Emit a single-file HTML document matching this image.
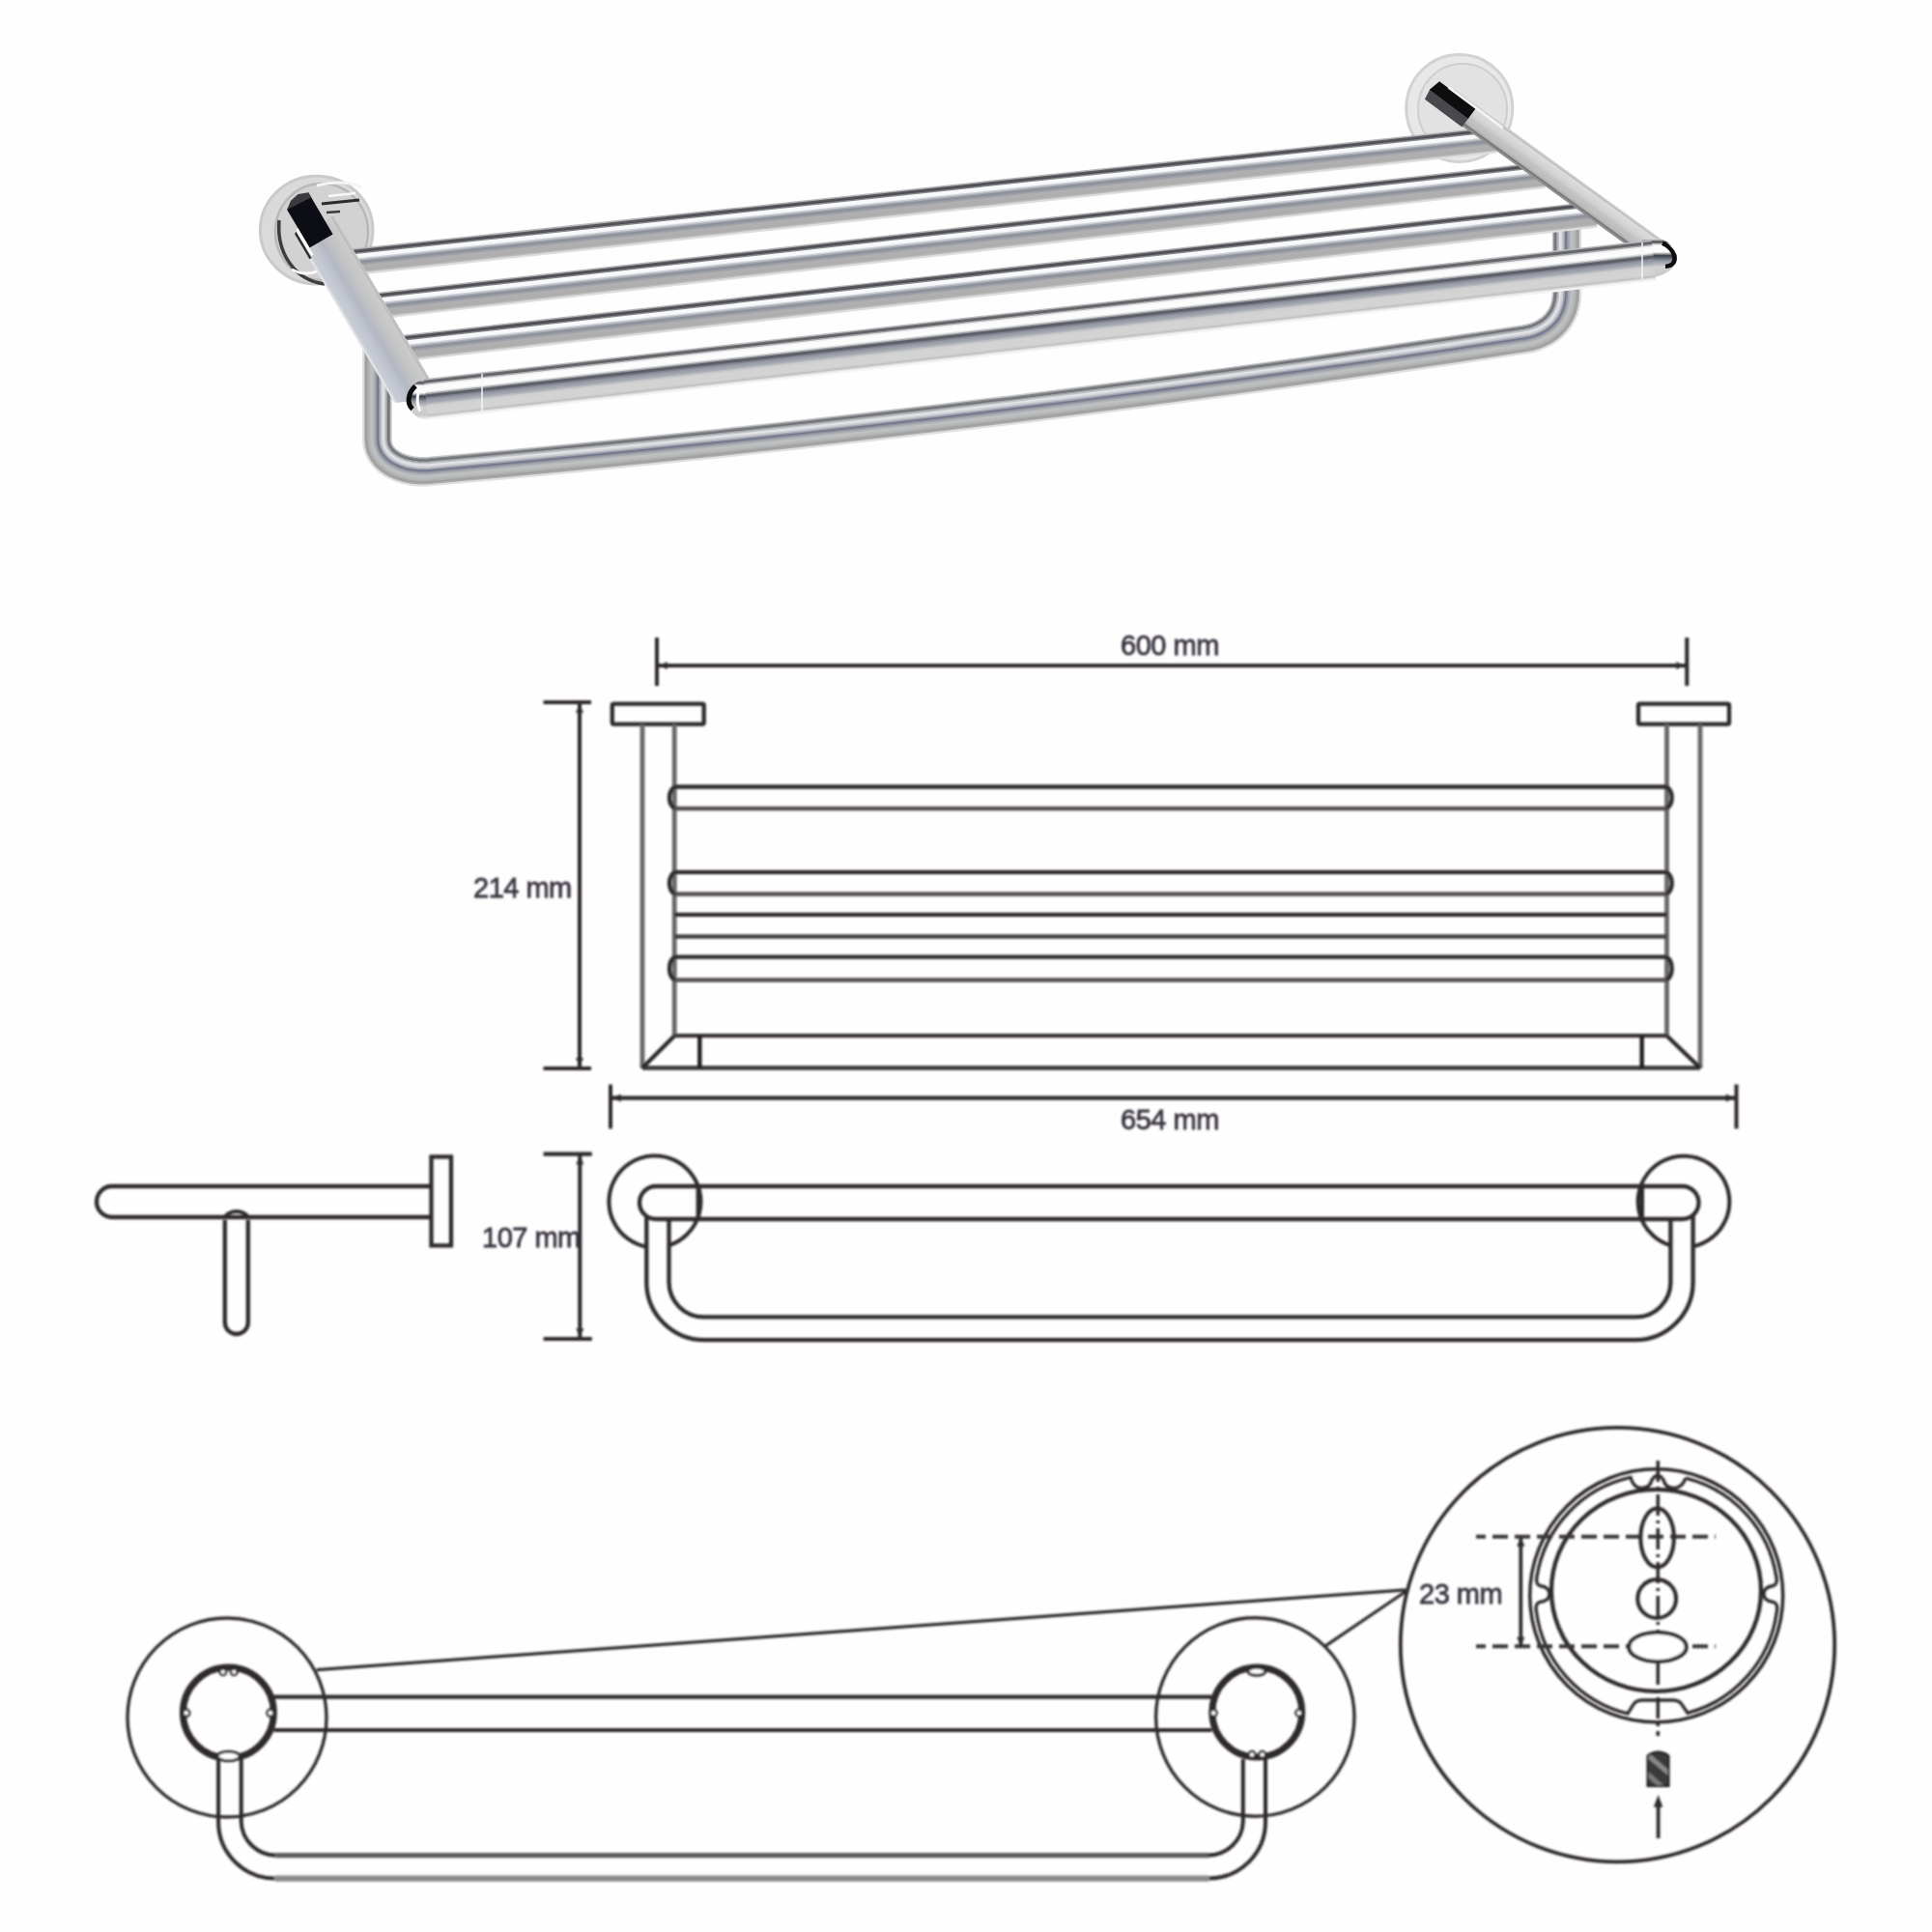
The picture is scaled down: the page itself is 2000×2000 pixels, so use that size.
<!DOCTYPE html>
<html><head><meta charset="utf-8"><style>
html,body{margin:0;padding:0;background:#fff;}
svg{display:block;}
text{font-family:"Liberation Sans",sans-serif;}
</style></head><body>
<svg width="2000" height="2000" viewBox="0 0 2000 2000">
<defs><filter id="pblur" filterUnits="userSpaceOnUse" x="0" y="0" width="2000" height="700"><feGaussianBlur stdDeviation="0.7"/></filter><filter id="dblur" filterUnits="userSpaceOnUse" x="0" y="0" width="2000" height="2000"><feGaussianBlur stdDeviation="1.2"/></filter></defs>
<rect width="2000" height="2000" fill="#fefefe"/>
<g filter="url(#pblur)">
<ellipse cx="327.7" cy="238.1" rx="58.3" ry="55.8" fill="#dadada" stroke="#cacaca" stroke-width="3"/>
<ellipse cx="333" cy="240" rx="48" ry="50" fill="#d2d2d2" stroke="#b8b8b8" stroke-width="2.5"/>
<path d="M289,228 C286,262 305,290 336,294" stroke="#3c3c3c" stroke-width="3.5" fill="none"/>
<path d="M302,279 C312,284 322,284 330,280" stroke="#fafafa" stroke-width="3" fill="none"/>
<path d="M328,192 C348,187 365,189 374,194" stroke="#f4f4f4" stroke-width="3" fill="none"/>
<path d="M333,211 L372,207" stroke="#2a2a2a" stroke-width="3" fill="none"/>
<path d="M338,220 L352,219" stroke="#3a3a3a" stroke-width="2.5" fill="none"/>
<path d="M340,203 L368,200" stroke="#f8f8f8" stroke-width="2.5" fill="none"/>
<ellipse cx="1510.8" cy="112" rx="55" ry="55.5" fill="#e8e8e8" stroke="#d2d2d2" stroke-width="3"/>
<ellipse cx="1514" cy="113" rx="46" ry="47" fill="#e2e2e2" stroke="#cecece" stroke-width="2"/>
<path d="M404.6,350.0L404.5,454.9L404.8,457.6L405.4,459.7L406.4,461.8L407.9,463.8L409.9,465.8L412.6,467.7L415.8,469.5L419.6,471.1L423.8,472.4L428.4,473.3L433.3,473.9L438.5,474.1L443.8,473.8L519.2,467.0L594.7,459.8L670.2,452.3L745.6,444.5L821.1,436.3L896.6,427.9L972.1,419.1L1047.5,410.0L1123.0,400.6L1198.5,390.8L1274.0,380.8L1349.4,370.4L1424.9,359.7L1500.4,348.6L1575.8,337.3L1580.5,336.4L1584.8,335.1L1588.7,333.6L1592.2,331.7L1595.3,329.6L1598.1,327.3L1600.5,324.7L1602.6,321.9L1604.4,318.8L1605.8,315.4L1606.8,311.7L1607.5,307.6L1607.8,302.9L1607.8,228.0" stroke="#c8c9cb" stroke-width="2.20" fill="none" stroke-linecap="butt" stroke-linejoin="round" />
<path d="M403.1,350.0L403.0,454.9L403.3,457.8L404.0,460.3L405.1,462.6L406.8,464.8L409.0,466.9L411.8,469.0L415.1,470.9L419.0,472.5L423.4,473.8L428.2,474.8L433.2,475.4L438.5,475.6L443.9,475.3L519.4,468.5L594.8,461.3L670.3,453.8L745.8,446.0L821.3,437.8L896.8,429.4L972.2,420.6L1047.7,411.5L1123.2,402.1L1198.7,392.3L1274.2,382.2L1349.6,371.8L1425.1,361.1L1500.6,350.1L1576.1,338.8L1580.8,337.8L1585.3,336.5L1589.3,334.9L1593.0,333.0L1596.2,330.8L1599.2,328.4L1601.7,325.7L1603.9,322.7L1605.7,319.5L1607.2,315.9L1608.3,312.0L1609.0,307.7L1609.3,303.0L1609.2,228.0" stroke="#86888c" stroke-width="2.20" fill="none" stroke-linecap="butt" stroke-linejoin="round" />
<path d="M401.6,350.0L401.5,455.0L401.8,458.1L402.6,460.8L403.9,463.3L405.6,465.7L408.0,468.1L411.0,470.2L414.5,472.2L418.5,473.9L423.0,475.3L427.9,476.3L433.1,476.9L438.5,477.1L444.0,476.8L519.5,470.0L595.0,462.8L670.5,455.3L746.0,447.5L821.4,439.3L896.9,430.9L972.4,422.1L1047.9,413.0L1123.4,403.5L1198.9,393.8L1274.4,383.7L1349.8,373.3L1425.3,362.6L1500.8,351.6L1576.3,340.2L1581.2,339.3L1585.7,337.9L1589.9,336.3L1593.7,334.3L1597.1,332.0L1600.2,329.5L1602.8,326.7L1605.1,323.6L1607.1,320.1L1608.6,316.4L1609.8,312.3L1610.5,307.9L1610.8,303.0L1610.8,228.0" stroke="#6e7074" stroke-width="2.20" fill="none" stroke-linecap="butt" stroke-linejoin="round" />
<path d="M400.1,350.0L400.0,455.0L400.4,458.4L401.2,461.4L402.6,464.1L404.5,466.7L407.0,469.2L410.1,471.5L413.8,473.6L418.0,475.3L422.7,476.7L427.7,477.8L433.0,478.4L438.5,478.6L444.2,478.3L519.6,471.4L595.1,464.3L670.6,456.8L746.1,449.0L821.6,440.8L897.1,432.3L972.6,423.6L1048.1,414.5L1123.6,405.0L1199.1,395.3L1274.6,385.2L1350.1,374.8L1425.5,364.1L1501.0,353.1L1576.5,341.7L1581.6,340.7L1586.2,339.4L1590.5,337.6L1594.5,335.6L1598.0,333.2L1601.2,330.6L1604.0,327.6L1606.4,324.4L1608.4,320.8L1610.0,316.9L1611.2,312.7L1612.0,308.0L1612.3,303.0L1612.2,228.0" stroke="#a0a2a6" stroke-width="2.20" fill="none" stroke-linecap="butt" stroke-linejoin="round" />
<path d="M398.6,350.0L398.5,455.0L398.9,458.6L399.8,461.9L401.3,464.9L403.4,467.7L406.1,470.3L409.3,472.8L413.2,474.9L417.5,476.7L422.3,478.2L427.4,479.3L432.9,479.9L438.5,480.1L444.3,479.8L519.8,472.9L595.3,465.8L670.8,458.3L746.3,450.4L821.8,442.3L897.3,433.8L972.8,425.1L1048.3,415.9L1123.8,406.5L1199.3,396.8L1274.8,386.7L1350.3,376.3L1425.8,365.6L1501.3,354.6L1576.7,343.2L1581.9,342.2L1586.7,340.8L1591.2,339.0L1595.2,336.9L1598.9,334.4L1602.2,331.7L1605.1,328.6L1607.7,325.2L1609.8,321.5L1611.5,317.4L1612.7,313.0L1613.5,308.2L1613.8,303.0L1613.8,228.0" stroke="#c3c5c9" stroke-width="2.20" fill="none" stroke-linecap="butt" stroke-linejoin="round" />
<path d="M397.1,350.0L397.0,455.0L397.4,458.9L398.4,462.4L400.0,465.7L402.2,468.7L405.1,471.5L408.5,474.0L412.5,476.3L417.0,478.1L421.9,479.6L427.2,480.7L432.8,481.4L438.5,481.6L444.4,481.3L519.9,474.4L595.4,467.3L670.9,459.8L746.4,451.9L821.9,443.8L897.4,435.3L972.9,426.5L1048.4,417.4L1123.9,408.0L1199.5,398.3L1275.0,388.2L1350.5,377.8L1426.0,367.1L1501.5,356.0L1577.0,344.7L1582.3,343.6L1587.2,342.2L1591.8,340.4L1596.0,338.2L1599.8,335.6L1603.3,332.8L1606.3,329.5L1608.9,326.0L1611.1,322.1L1612.9,317.9L1614.2,313.3L1615.0,308.4L1615.3,303.0L1615.2,228.0" stroke="#e3e5e9" stroke-width="2.20" fill="none" stroke-linecap="butt" stroke-linejoin="round" />
<path d="M395.6,350.0L395.5,455.0L395.9,459.2L397.0,463.0L398.7,466.5L401.1,469.7L404.1,472.6L407.7,475.3L411.9,477.6L416.5,479.5L421.6,481.1L427.0,482.2L432.7,482.9L438.5,483.1L444.5,482.8L520.0,475.9L595.6,468.7L671.1,461.2L746.6,453.4L822.1,445.3L897.6,436.8L973.1,428.0L1048.6,418.9L1124.1,409.5L1199.7,399.7L1275.2,389.7L1350.7,379.3L1426.2,368.6L1501.7,357.5L1577.2,346.2L1582.6,345.1L1587.7,343.6L1592.4,341.7L1596.8,339.5L1600.7,336.8L1604.3,333.8L1607.5,330.5L1610.2,326.8L1612.5,322.8L1614.3,318.4L1615.6,313.6L1616.5,308.5L1616.8,303.0L1616.8,228.0" stroke="#d7d9de" stroke-width="2.20" fill="none" stroke-linecap="butt" stroke-linejoin="round" />
<path d="M394.1,350.0L394.0,455.0L394.5,459.4L395.6,463.5L397.5,467.2L400.0,470.7L403.1,473.8L406.9,476.5L411.2,478.9L416.0,481.0L421.2,482.5L426.7,483.7L432.5,484.4L438.5,484.6L444.7,484.3L520.2,477.4L595.7,470.2L671.2,462.7L746.7,454.9L822.3,446.8L897.8,438.3L973.3,429.5L1048.8,420.4L1124.3,411.0L1199.8,401.2L1275.4,391.2L1350.9,380.8L1426.4,370.0L1501.9,359.0L1577.4,347.7L1583.0,346.6L1588.2,345.0L1593.0,343.1L1597.5,340.8L1601.6,338.0L1605.3,334.9L1608.6,331.5L1611.4,327.6L1613.8,323.4L1615.7,318.9L1617.1,314.0L1618.0,308.7L1618.3,303.0L1618.2,228.0" stroke="#c3c5cb" stroke-width="2.20" fill="none" stroke-linecap="butt" stroke-linejoin="round" />
<path d="M392.6,350.0L392.5,455.0L393.0,459.7L394.2,464.0L396.2,468.0L398.8,471.6L402.2,474.9L406.1,477.8L410.5,480.3L415.5,482.4L420.8,484.0L426.5,485.2L432.4,485.9L438.6,486.1L444.8,485.8L520.3,478.9L595.8,471.7L671.4,464.2L746.9,456.4L822.4,448.3L897.9,439.8L973.5,431.0L1049.0,421.9L1124.5,412.5L1200.0,402.7L1275.6,392.6L1351.1,382.2L1426.6,371.5L1502.1,360.5L1577.7,349.1L1583.3,348.0L1588.7,346.5L1593.7,344.5L1598.3,342.1L1602.5,339.2L1606.4,336.0L1609.8,332.4L1612.7,328.4L1615.2,324.1L1617.1,319.4L1618.6,314.3L1619.4,308.8L1619.8,303.0L1619.8,228.0" stroke="#9b9eab" stroke-width="2.20" fill="none" stroke-linecap="butt" stroke-linejoin="round" />
<path d="M391.1,350.0L391.0,455.0L391.5,460.0L392.8,464.6L394.9,468.8L397.7,472.6L401.2,476.1L405.3,479.1L409.9,481.6L415.0,483.8L420.4,485.5L426.3,486.7L432.3,487.4L438.6,487.6L444.9,487.3L520.5,480.4L596.0,473.2L671.5,465.7L747.1,457.9L822.6,449.8L898.1,441.3L973.6,432.5L1049.2,423.4L1124.7,414.0L1200.2,404.2L1275.8,394.1L1351.3,383.7L1426.8,373.0L1502.4,362.0L1577.9,350.6L1583.7,349.5L1589.2,347.9L1594.3,345.8L1599.1,343.3L1603.4,340.4L1607.4,337.1L1610.9,333.4L1614.0,329.3L1616.5,324.8L1618.5,319.9L1620.0,314.6L1620.9,309.0L1621.3,303.0L1621.2,228.0" stroke="#71758b" stroke-width="2.20" fill="none" stroke-linecap="butt" stroke-linejoin="round" />
<path d="M389.6,350.0L389.6,455.0L390.0,460.3L391.4,465.1L393.6,469.6L396.6,473.6L400.2,477.2L404.5,480.3L409.2,483.0L414.5,485.2L420.1,486.9L426.0,488.1L432.2,488.9L438.6,489.1L445.1,488.8L520.6,481.9L596.1,474.7L671.7,467.2L747.2,459.4L822.7,451.2L898.3,442.8L973.8,434.0L1049.4,424.9L1124.9,415.4L1200.4,405.7L1276.0,395.6L1351.5,385.2L1427.0,374.5L1502.6,363.5L1578.1,352.1L1584.0,350.9L1589.6,349.3L1594.9,347.2L1599.8,344.6L1604.3,341.6L1608.4,338.2L1612.1,334.4L1615.2,330.1L1617.9,325.4L1620.0,320.4L1621.5,314.9L1622.4,309.1L1622.7,303.0L1622.8,228.0" stroke="#8b8f9c" stroke-width="2.20" fill="none" stroke-linecap="butt" stroke-linejoin="round" />
<path d="M388.1,350.0L388.1,455.0L388.5,460.5L390.0,465.7L392.3,470.4L395.4,474.6L399.2,478.3L403.6,481.6L408.6,484.3L414.0,486.6L419.7,488.4L425.8,489.6L432.1,490.4L438.6,490.6L445.2,490.3L520.7,483.4L596.3,476.2L671.8,468.7L747.4,460.9L822.9,452.7L898.5,444.3L974.0,435.5L1049.5,426.4L1125.1,416.9L1200.6,407.2L1276.2,397.1L1351.7,386.7L1427.3,376.0L1502.8,364.9L1578.3,353.6L1584.4,352.4L1590.1,350.7L1595.5,348.6L1600.6,345.9L1605.2,342.8L1609.4,339.3L1613.2,335.3L1616.5,330.9L1619.2,326.1L1621.4,320.8L1623.0,315.3L1623.9,309.3L1624.2,303.0L1624.2,228.0" stroke="#a3a6ac" stroke-width="2.20" fill="none" stroke-linecap="butt" stroke-linejoin="round" />
<path d="M386.6,350.0L386.6,455.0L387.1,460.8L388.6,466.2L391.1,471.1L394.3,475.6L398.3,479.5L402.8,482.8L407.9,485.7L413.4,488.0L419.3,489.8L425.5,491.1L432.0,491.9L438.6,492.1L445.3,491.8L520.9,484.9L596.4,477.7L672.0,470.2L747.5,462.4L823.1,454.2L898.6,445.8L974.2,437.0L1049.7,427.9L1125.3,418.4L1200.8,408.7L1276.4,398.6L1351.9,388.2L1427.5,377.5L1503.0,366.4L1578.6,355.1L1584.7,353.9L1590.6,352.1L1596.2,349.9L1601.3,347.2L1606.1,344.0L1610.5,340.4L1614.4,336.3L1617.7,331.7L1620.5,326.7L1622.8,321.3L1624.4,315.6L1625.4,309.5L1625.7,303.0L1625.8,228.0" stroke="#b3b6b9" stroke-width="2.20" fill="none" stroke-linecap="butt" stroke-linejoin="round" />
<path d="M385.1,350.0L385.1,455.0L385.6,461.1L387.2,466.7L389.8,471.9L393.2,476.6L397.3,480.6L402.0,484.1L407.3,487.0L412.9,489.4L419.0,491.3L425.3,492.6L431.9,493.3L438.6,493.6L445.5,493.2L521.0,486.4L596.6,479.2L672.1,471.7L747.7,463.9L823.2,455.7L898.8,447.2L974.4,438.5L1049.9,429.3L1125.5,419.9L1201.0,410.2L1276.6,400.1L1352.1,389.7L1427.7,379.0L1503.2,367.9L1578.8,356.5L1585.1,355.3L1591.1,353.6L1596.8,351.3L1602.1,348.5L1607.0,345.2L1611.5,341.5L1615.5,337.2L1619.0,332.5L1621.9,327.4L1624.2,321.8L1625.9,315.9L1626.9,309.6L1627.2,303.0L1627.2,228.0" stroke="#bfc1c3" stroke-width="2.20" fill="none" stroke-linecap="butt" stroke-linejoin="round" />
<path d="M383.6,350.0L383.6,455.0L384.1,461.3L385.8,467.3L388.5,472.7L392.0,477.5L396.3,481.8L401.2,485.4L406.6,488.4L412.4,490.8L418.6,492.7L425.1,494.1L431.8,494.8L438.6,495.1L445.6,494.7L521.2,487.9L596.7,480.7L672.3,473.2L747.8,465.4L823.4,457.2L899.0,448.7L974.5,439.9L1050.1,430.8L1125.7,421.4L1201.2,411.6L1276.8,401.6L1352.3,391.2L1427.9,380.4L1503.5,369.4L1579.0,358.0L1585.4,356.8L1591.6,355.0L1597.4,352.7L1602.9,349.8L1607.9,346.4L1612.5,342.6L1616.7,338.2L1620.2,333.3L1623.2,328.0L1625.6,322.3L1627.3,316.2L1628.4,309.8L1628.7,303.0L1628.8,228.0" stroke="#bbbcbd" stroke-width="2.20" fill="none" stroke-linecap="butt" stroke-linejoin="round" />
<path d="M382.1,350.0L382.1,455.0L382.6,461.6L384.4,467.8L387.2,473.5L390.9,478.5L395.4,482.9L400.4,486.6L405.9,489.7L411.9,492.2L418.2,494.2L424.8,495.5L431.6,496.3L438.6,496.6L445.7,496.2L521.3,489.4L596.9,482.2L672.4,474.7L748.0,466.9L823.6,458.7L899.1,450.2L974.7,441.4L1050.3,432.3L1125.8,422.9L1201.4,413.1L1277.0,403.0L1352.5,392.6L1428.1,381.9L1503.7,370.9L1579.3,359.5L1585.8,358.2L1592.1,356.4L1598.0,354.0L1603.6,351.1L1608.8,347.6L1613.6,343.7L1617.8,339.2L1621.5,334.2L1624.6,328.7L1627.0,322.8L1628.8,316.5L1629.9,309.9L1630.2,303.0L1630.2,228.0" stroke="#b6b7b7" stroke-width="2.20" fill="none" stroke-linecap="butt" stroke-linejoin="round" />
<path d="M380.6,350.0L380.6,455.0L381.2,461.9L383.0,468.4L385.9,474.3L389.8,479.5L394.4,484.0L399.6,487.9L405.3,491.1L411.4,493.7L417.9,495.6L424.6,497.0L431.5,497.8L438.6,498.1L445.8,497.7L521.4,490.9L597.0,483.7L672.6,476.2L748.2,468.3L823.7,460.2L899.3,451.7L974.9,442.9L1050.5,433.8L1126.0,424.4L1201.6,414.6L1277.2,404.5L1352.7,394.1L1428.3,383.4L1503.9,372.4L1579.5,361.0L1586.2,359.7L1592.6,357.8L1598.7,355.4L1604.4,352.4L1609.7,348.8L1614.6,344.8L1619.0,340.1L1622.8,335.0L1625.9,329.4L1628.5,323.3L1630.3,316.9L1631.4,310.1L1631.7,303.0L1631.8,228.0" stroke="#adadad" stroke-width="2.20" fill="none" stroke-linecap="butt" stroke-linejoin="round" />
<path d="M379.1,350.0L379.1,455.0L379.7,462.1L381.6,468.9L384.6,475.0L388.6,480.5L393.4,485.2L398.8,489.2L404.6,492.4L410.9,495.1L417.5,497.1L424.3,498.5L431.4,499.3L438.7,499.6L446.0,499.2L521.6,492.4L597.2,485.2L672.7,477.7L748.3,469.8L823.9,461.7L899.5,453.2L975.1,444.4L1050.6,435.3L1126.2,425.9L1201.8,416.1L1277.4,406.0L1353.0,395.6L1428.5,384.9L1504.1,373.8L1579.7,362.5L1586.5,361.1L1593.1,359.2L1599.3,356.7L1605.2,353.7L1610.6,350.1L1615.6,345.8L1620.1,341.1L1624.0,335.8L1627.3,330.0L1629.9,323.8L1631.7,317.2L1632.9,310.2L1633.2,303.0L1633.2,228.0" stroke="#9f9f9f" stroke-width="2.20" fill="none" stroke-linecap="butt" stroke-linejoin="round" />
<path d="M377.6,350.0L377.6,455.1L378.2,462.4L380.2,469.4L383.4,475.8L387.5,481.5L392.4,486.3L398.0,490.4L404.0,493.8L410.4,496.5L417.1,498.5L424.1,500.0L431.3,500.8L438.7,501.1L446.1,500.7L521.7,493.9L597.3,486.7L672.9,479.2L748.5,471.3L824.1,463.2L899.6,454.7L975.2,445.9L1050.8,436.8L1126.4,427.4L1202.0,417.6L1277.6,407.5L1353.2,397.1L1428.8,386.4L1504.3,375.3L1579.9,364.0L1586.9,362.6L1593.5,360.6L1599.9,358.1L1605.9,355.0L1611.5,351.3L1616.7,346.9L1621.3,342.0L1625.3,336.6L1628.6,330.7L1631.3,324.3L1633.2,317.5L1634.4,310.4L1634.7,303.0L1634.8,228.0" stroke="#aaaaaa" stroke-width="2.20" fill="none" stroke-linecap="butt" stroke-linejoin="round" />
<path d="M376.1,350.0L376.1,455.1L376.7,462.7L378.8,470.0L382.1,476.6L386.4,482.5L391.5,487.5L397.2,491.7L403.3,495.1L409.9,497.9L416.7,500.0L423.9,501.5L431.2,502.3L438.7,502.6L446.2,502.2L521.9,495.3L597.4,488.2L673.0,480.6L748.6,472.8L824.2,464.7L899.8,456.2L975.4,447.4L1051.0,438.3L1126.6,428.8L1202.2,419.1L1277.8,409.0L1353.4,398.6L1429.0,387.9L1504.6,376.8L1580.2,365.4L1587.2,364.1L1594.0,362.1L1600.5,359.5L1606.7,356.3L1612.4,352.5L1617.7,348.0L1622.4,343.0L1626.5,337.4L1630.0,331.3L1632.7,324.8L1634.7,317.8L1635.9,310.6L1636.2,303.1L1636.2,228.0" stroke="#e0e0e0" stroke-width="2.20" fill="none" stroke-linecap="butt" stroke-linejoin="round" />
<path d="M360.6,258.9L1546.6,132.1" stroke="#b6b6b8" stroke-width="2.20" fill="none" stroke-linecap="butt" stroke-linejoin="round" />
<path d="M360.8,260.4L1546.8,133.6" stroke="#58585e" stroke-width="2.20" fill="none" stroke-linecap="butt" stroke-linejoin="round" />
<path d="M361.0,261.9L1547.0,135.1" stroke="#4c4c52" stroke-width="2.20" fill="none" stroke-linecap="butt" stroke-linejoin="round" />
<path d="M361.1,263.4L1547.1,136.6" stroke="#85858a" stroke-width="2.20" fill="none" stroke-linecap="butt" stroke-linejoin="round" />
<path d="M361.3,264.9L1547.3,138.1" stroke="#fafbfc" stroke-width="2.20" fill="none" stroke-linecap="butt" stroke-linejoin="round" />
<path d="M361.4,266.4L1547.4,139.5" stroke="#f8f9fb" stroke-width="2.20" fill="none" stroke-linecap="butt" stroke-linejoin="round" />
<path d="M361.6,267.8L1547.6,141.0" stroke="#f5f7f9" stroke-width="2.20" fill="none" stroke-linecap="butt" stroke-linejoin="round" />
<path d="M361.8,269.3L1547.8,142.5" stroke="#ccd0d6" stroke-width="2.20" fill="none" stroke-linecap="butt" stroke-linejoin="round" />
<path d="M361.9,270.8L1547.9,144.0" stroke="#a7abb4" stroke-width="2.20" fill="none" stroke-linecap="butt" stroke-linejoin="round" />
<path d="M362.1,272.3L1548.1,145.5" stroke="#8b8f99" stroke-width="2.20" fill="none" stroke-linecap="butt" stroke-linejoin="round" />
<path d="M362.2,273.8L1548.2,147.0" stroke="#9397a1" stroke-width="2.20" fill="none" stroke-linecap="butt" stroke-linejoin="round" />
<path d="M362.4,275.3L1548.4,148.5" stroke="#a2a4aa" stroke-width="2.20" fill="none" stroke-linecap="butt" stroke-linejoin="round" />
<path d="M362.6,276.8L1548.6,150.0" stroke="#b0b0b2" stroke-width="2.20" fill="none" stroke-linecap="butt" stroke-linejoin="round" />
<path d="M362.7,278.3L1548.7,151.5" stroke="#afafb0" stroke-width="2.20" fill="none" stroke-linecap="butt" stroke-linejoin="round" />
<path d="M362.9,279.8L1548.9,153.0" stroke="#aeaeae" stroke-width="2.20" fill="none" stroke-linecap="butt" stroke-linejoin="round" />
<path d="M363.0,281.3L1549.0,154.5" stroke="#adadad" stroke-width="2.20" fill="none" stroke-linecap="butt" stroke-linejoin="round" />
<path d="M363.2,282.8L1549.2,156.0" stroke="#bababa" stroke-width="2.20" fill="none" stroke-linecap="butt" stroke-linejoin="round" />
<path d="M363.4,284.3L1549.4,157.4" stroke="#dddddd" stroke-width="2.20" fill="none" stroke-linecap="butt" stroke-linejoin="round" />
<path d="M386.6,304.3L1596.6,168.7" stroke="#b6b6b8" stroke-width="2.20" fill="none" stroke-linecap="butt" stroke-linejoin="round" />
<path d="M386.7,305.8L1596.7,170.2" stroke="#58585e" stroke-width="2.20" fill="none" stroke-linecap="butt" stroke-linejoin="round" />
<path d="M386.9,307.2L1596.9,171.6" stroke="#4c4c52" stroke-width="2.20" fill="none" stroke-linecap="butt" stroke-linejoin="round" />
<path d="M387.1,308.7L1597.1,173.1" stroke="#85858a" stroke-width="2.20" fill="none" stroke-linecap="butt" stroke-linejoin="round" />
<path d="M387.2,310.2L1597.2,174.6" stroke="#fafbfc" stroke-width="2.20" fill="none" stroke-linecap="butt" stroke-linejoin="round" />
<path d="M387.4,311.7L1597.4,176.1" stroke="#f8f9fb" stroke-width="2.20" fill="none" stroke-linecap="butt" stroke-linejoin="round" />
<path d="M387.6,313.2L1597.6,177.6" stroke="#f5f7f9" stroke-width="2.20" fill="none" stroke-linecap="butt" stroke-linejoin="round" />
<path d="M387.7,314.7L1597.7,179.1" stroke="#ccd0d6" stroke-width="2.20" fill="none" stroke-linecap="butt" stroke-linejoin="round" />
<path d="M387.9,316.2L1597.9,180.6" stroke="#a7abb4" stroke-width="2.20" fill="none" stroke-linecap="butt" stroke-linejoin="round" />
<path d="M388.1,317.7L1598.1,182.1" stroke="#8b8f99" stroke-width="2.20" fill="none" stroke-linecap="butt" stroke-linejoin="round" />
<path d="M388.3,319.2L1598.3,183.6" stroke="#9397a1" stroke-width="2.20" fill="none" stroke-linecap="butt" stroke-linejoin="round" />
<path d="M388.4,320.7L1598.4,185.1" stroke="#a2a4aa" stroke-width="2.20" fill="none" stroke-linecap="butt" stroke-linejoin="round" />
<path d="M388.6,322.2L1598.6,186.5" stroke="#b0b0b2" stroke-width="2.20" fill="none" stroke-linecap="butt" stroke-linejoin="round" />
<path d="M388.8,323.6L1598.8,188.0" stroke="#afafb0" stroke-width="2.20" fill="none" stroke-linecap="butt" stroke-linejoin="round" />
<path d="M388.9,325.1L1598.9,189.5" stroke="#aeaeae" stroke-width="2.20" fill="none" stroke-linecap="butt" stroke-linejoin="round" />
<path d="M389.1,326.6L1599.1,191.0" stroke="#adadad" stroke-width="2.20" fill="none" stroke-linecap="butt" stroke-linejoin="round" />
<path d="M389.3,328.1L1599.3,192.5" stroke="#bababa" stroke-width="2.20" fill="none" stroke-linecap="butt" stroke-linejoin="round" />
<path d="M389.4,329.6L1599.4,194.0" stroke="#dddddd" stroke-width="2.20" fill="none" stroke-linecap="butt" stroke-linejoin="round" />
<path d="M414.6,348.1L1650.6,209.3" stroke="#b6b6b8" stroke-width="2.20" fill="none" stroke-linecap="butt" stroke-linejoin="round" />
<path d="M414.7,349.6L1650.7,210.7" stroke="#58585e" stroke-width="2.20" fill="none" stroke-linecap="butt" stroke-linejoin="round" />
<path d="M414.9,351.1L1650.9,212.2" stroke="#4c4c52" stroke-width="2.20" fill="none" stroke-linecap="butt" stroke-linejoin="round" />
<path d="M415.1,352.6L1651.1,213.7" stroke="#85858a" stroke-width="2.20" fill="none" stroke-linecap="butt" stroke-linejoin="round" />
<path d="M415.2,354.1L1651.2,215.2" stroke="#fafbfc" stroke-width="2.20" fill="none" stroke-linecap="butt" stroke-linejoin="round" />
<path d="M415.4,355.6L1651.4,216.7" stroke="#f8f9fb" stroke-width="2.20" fill="none" stroke-linecap="butt" stroke-linejoin="round" />
<path d="M415.6,357.1L1651.6,218.2" stroke="#f5f7f9" stroke-width="2.20" fill="none" stroke-linecap="butt" stroke-linejoin="round" />
<path d="M415.7,358.6L1651.7,219.7" stroke="#ccd0d6" stroke-width="2.20" fill="none" stroke-linecap="butt" stroke-linejoin="round" />
<path d="M415.9,360.0L1651.9,221.2" stroke="#a7abb4" stroke-width="2.20" fill="none" stroke-linecap="butt" stroke-linejoin="round" />
<path d="M416.1,361.5L1652.1,222.7" stroke="#8b8f99" stroke-width="2.20" fill="none" stroke-linecap="butt" stroke-linejoin="round" />
<path d="M416.3,363.0L1652.3,224.2" stroke="#9397a1" stroke-width="2.20" fill="none" stroke-linecap="butt" stroke-linejoin="round" />
<path d="M416.4,364.5L1652.4,225.7" stroke="#a2a4aa" stroke-width="2.20" fill="none" stroke-linecap="butt" stroke-linejoin="round" />
<path d="M416.6,366.0L1652.6,227.1" stroke="#b0b0b2" stroke-width="2.20" fill="none" stroke-linecap="butt" stroke-linejoin="round" />
<path d="M416.8,367.5L1652.8,228.6" stroke="#afafb0" stroke-width="2.20" fill="none" stroke-linecap="butt" stroke-linejoin="round" />
<path d="M416.9,369.0L1652.9,230.1" stroke="#aeaeae" stroke-width="2.20" fill="none" stroke-linecap="butt" stroke-linejoin="round" />
<path d="M417.1,370.5L1653.1,231.6" stroke="#adadad" stroke-width="2.20" fill="none" stroke-linecap="butt" stroke-linejoin="round" />
<path d="M417.3,372.0L1653.3,233.1" stroke="#bababa" stroke-width="2.20" fill="none" stroke-linecap="butt" stroke-linejoin="round" />
<path d="M417.4,373.5L1653.4,234.6" stroke="#dddddd" stroke-width="2.20" fill="none" stroke-linecap="butt" stroke-linejoin="round" />
<clipPath id="clipL"><path d="M250,150 L520,150 L520,404.4 L380,420.3 L250,420.3 Z"/></clipPath>
<g clip-path="url(#clipL)"><path d="M344.2,224.0L457.9,416.4" stroke="#c3c3c3" stroke-width="2.20" fill="none" stroke-linecap="butt" stroke-linejoin="round" />
<path d="M342.9,224.8L456.6,417.2" stroke="#bcbcbc" stroke-width="2.20" fill="none" stroke-linecap="butt" stroke-linejoin="round" />
<path d="M341.7,225.5L455.3,418.0" stroke="#cbcbcb" stroke-width="2.20" fill="none" stroke-linecap="butt" stroke-linejoin="round" />
<path d="M340.4,226.3L454.0,418.7" stroke="#cacaca" stroke-width="2.20" fill="none" stroke-linecap="butt" stroke-linejoin="round" />
<path d="M339.1,227.1L452.7,419.5" stroke="#c9c9c9" stroke-width="2.20" fill="none" stroke-linecap="butt" stroke-linejoin="round" />
<path d="M337.8,227.8L451.4,420.3" stroke="#c8c8c8" stroke-width="2.20" fill="none" stroke-linecap="butt" stroke-linejoin="round" />
<path d="M336.5,228.6L450.1,421.0" stroke="#c7c7c7" stroke-width="2.20" fill="none" stroke-linecap="butt" stroke-linejoin="round" />
<path d="M335.2,229.3L448.8,421.8" stroke="#c6c6c6" stroke-width="2.20" fill="none" stroke-linecap="butt" stroke-linejoin="round" />
<path d="M333.9,230.1L447.5,422.6" stroke="#c4c5c6" stroke-width="2.20" fill="none" stroke-linecap="butt" stroke-linejoin="round" />
<path d="M332.6,230.9L446.2,423.3" stroke="#c3c3c5" stroke-width="2.20" fill="none" stroke-linecap="butt" stroke-linejoin="round" />
<path d="M331.3,231.6L445.0,424.1" stroke="#c1c2c5" stroke-width="2.20" fill="none" stroke-linecap="butt" stroke-linejoin="round" />
<path d="M330.0,232.4L443.7,424.8" stroke="#bfc0c5" stroke-width="2.20" fill="none" stroke-linecap="butt" stroke-linejoin="round" />
<path d="M328.7,233.2L442.4,425.6" stroke="#bdbfc4" stroke-width="2.20" fill="none" stroke-linecap="butt" stroke-linejoin="round" />
<path d="M327.4,233.9L441.1,426.4" stroke="#bbbdc4" stroke-width="2.20" fill="none" stroke-linecap="butt" stroke-linejoin="round" />
<path d="M326.2,234.7L439.8,427.1" stroke="#b8bbc3" stroke-width="2.20" fill="none" stroke-linecap="butt" stroke-linejoin="round" />
<path d="M324.9,235.4L438.5,427.9" stroke="#b6bac2" stroke-width="2.20" fill="none" stroke-linecap="butt" stroke-linejoin="round" />
<path d="M323.6,236.2L437.2,428.7" stroke="#b4b8c2" stroke-width="2.20" fill="none" stroke-linecap="butt" stroke-linejoin="round" />
<path d="M322.3,237.0L435.9,429.4" stroke="#b7bbc5" stroke-width="2.20" fill="none" stroke-linecap="butt" stroke-linejoin="round" />
<path d="M321.0,237.7L434.6,430.2" stroke="#b9bdc7" stroke-width="2.20" fill="none" stroke-linecap="butt" stroke-linejoin="round" />
<path d="M319.7,238.5L433.3,430.9" stroke="#bcc0ca" stroke-width="2.20" fill="none" stroke-linecap="butt" stroke-linejoin="round" />
<path d="M318.4,239.3L432.0,431.7" stroke="#bec2cc" stroke-width="2.20" fill="none" stroke-linecap="butt" stroke-linejoin="round" />
<path d="M317.1,240.0L430.7,432.5" stroke="#c0c4ce" stroke-width="2.20" fill="none" stroke-linecap="butt" stroke-linejoin="round" />
<path d="M315.8,240.8L429.5,433.2" stroke="#c2c6d0" stroke-width="2.20" fill="none" stroke-linecap="butt" stroke-linejoin="round" />
<path d="M314.5,241.5L428.2,434.0" stroke="#c4c8d2" stroke-width="2.20" fill="none" stroke-linecap="butt" stroke-linejoin="round" />
<path d="M313.2,242.3L426.9,434.8" stroke="#c5c9d2" stroke-width="2.20" fill="none" stroke-linecap="butt" stroke-linejoin="round" />
<path d="M311.9,243.1L425.6,435.5" stroke="#c6cad3" stroke-width="2.20" fill="none" stroke-linecap="butt" stroke-linejoin="round" />
<path d="M310.7,243.8L424.3,436.3" stroke="#c7cbd4" stroke-width="2.20" fill="none" stroke-linecap="butt" stroke-linejoin="round" />
<path d="M309.4,244.6L423.0,437.0" stroke="#cccfd7" stroke-width="2.20" fill="none" stroke-linecap="butt" stroke-linejoin="round" />
<path d="M308.1,245.4L421.7,437.8" stroke="#e0e3e7" stroke-width="2.20" fill="none" stroke-linecap="butt" stroke-linejoin="round" /></g>
<g transform="translate(-5,-4)">
<path d="M324.2,203.3 L349.6,246.4 L325.5,260.6 L302.1,221.0 Z" fill="#0e0e12"/>
<path d="M313.3,239.9 L329.6,267.5 L326.5,269.3 L311.3,243.4 Z" fill="#f8f8f8"/>
<path d="M311.3,243.4 L327.6,271.0 L325.4,272.3 L310.2,246.4 Z" fill="#2e2e32"/>
<path d="M324.2,203.3 L313.6,205.0 L306.0,211.8 L302.1,221.0 L327.2,208.5 Z" fill="#3a3a3e"/>
</g>
<clipPath id="clipR"><path d="M1400,20 L1800,20 L1800,259.5 L1600,282.1 L1400,282.1 Z"/></clipPath>
<g clip-path="url(#clipR)"><path d="M1504.7,93.1L1731.2,257.1" stroke="#cfcfcf" stroke-width="2.20" fill="none" stroke-linecap="butt" stroke-linejoin="round" />
<path d="M1503.8,94.3L1730.3,258.3" stroke="#bcbcbc" stroke-width="2.20" fill="none" stroke-linecap="butt" stroke-linejoin="round" />
<path d="M1502.9,95.5L1729.4,259.5" stroke="#dcdcdc" stroke-width="2.20" fill="none" stroke-linecap="butt" stroke-linejoin="round" />
<path d="M1502.0,96.7L1728.5,260.7" stroke="#dadada" stroke-width="2.20" fill="none" stroke-linecap="butt" stroke-linejoin="round" />
<path d="M1501.2,97.9L1727.7,261.9" stroke="#d8d8d8" stroke-width="2.20" fill="none" stroke-linecap="butt" stroke-linejoin="round" />
<path d="M1500.3,99.2L1726.8,263.2" stroke="#d6d6d6" stroke-width="2.20" fill="none" stroke-linecap="butt" stroke-linejoin="round" />
<path d="M1499.4,100.4L1725.9,264.4" stroke="#d4d4d4" stroke-width="2.20" fill="none" stroke-linecap="butt" stroke-linejoin="round" />
<path d="M1498.5,101.6L1725.0,265.6" stroke="#d1d1d1" stroke-width="2.20" fill="none" stroke-linecap="butt" stroke-linejoin="round" />
<path d="M1497.6,102.8L1724.1,266.8" stroke="#cbcbcb" stroke-width="2.20" fill="none" stroke-linecap="butt" stroke-linejoin="round" />
<path d="M1496.8,104.0L1723.3,268.0" stroke="#c5c5c5" stroke-width="2.20" fill="none" stroke-linecap="butt" stroke-linejoin="round" />
<path d="M1495.9,105.2L1722.4,269.2" stroke="#c1c1c1" stroke-width="2.20" fill="none" stroke-linecap="butt" stroke-linejoin="round" />
<path d="M1495.0,106.4L1721.5,270.4" stroke="#c0c0c0" stroke-width="2.20" fill="none" stroke-linecap="butt" stroke-linejoin="round" />
<path d="M1494.1,107.7L1720.6,271.7" stroke="#bebebe" stroke-width="2.20" fill="none" stroke-linecap="butt" stroke-linejoin="round" />
<path d="M1493.2,108.9L1719.7,272.9" stroke="#bbbbbb" stroke-width="2.20" fill="none" stroke-linecap="butt" stroke-linejoin="round" />
<path d="M1492.4,110.1L1718.9,274.1" stroke="#aeaeae" stroke-width="2.20" fill="none" stroke-linecap="butt" stroke-linejoin="round" />
<path d="M1491.5,111.3L1718.0,275.3" stroke="#757575" stroke-width="2.20" fill="none" stroke-linecap="butt" stroke-linejoin="round" />
<path d="M1490.6,112.5L1717.1,276.5" stroke="#8f8f8f" stroke-width="2.20" fill="none" stroke-linecap="butt" stroke-linejoin="round" /></g>
<g transform="translate(-5,-2)">
<path d="M1485.5,94.0 L1525.5,123.9 L1518.4,133.5 L1479.9,104.8 Z" fill="#4a4a4e"/>
<path d="M1495.1,86.2 L1532.7,114.3 L1524.9,124.7 L1484.9,94.8 Z" fill="#0a0a0e"/>
</g>
<path d="M1500.2,89.4 L1556.2,131.3 L1554.7,133.3 L1498.7,91.4 Z" fill="#f6f6f6"/>
<defs><linearGradient id="capg" x1="0" y1="0" x2="0" y2="1"><stop offset="0" stop-color="#e0e0e0"/><stop offset="0.08" stop-color="#4a4c50"/><stop offset="0.16" stop-color="#fafafa"/><stop offset="0.33" stop-color="#fdfdfd"/><stop offset="0.42" stop-color="#3a3e46"/><stop offset="0.55" stop-color="#9498a4"/><stop offset="0.7" stop-color="#d2d2d2"/><stop offset="0.9" stop-color="#cacaca"/><stop offset="1" stop-color="#f2f2f2"/></linearGradient></defs>
<ellipse cx="441" cy="413.5" rx="19" ry="20.5" fill="url(#capg)"/>
<path d="M430,399.5 C422,407.5 421,417.5 427,423.5" stroke="#0a0a0e" stroke-width="5" fill="none"/>
<path d="M436,401.5 C431,408.5 431,418.5 435,425.5" stroke="#fafafa" stroke-width="3" fill="none"/>
<path d="M1700,247.7 L1718,247.2 C1728,248.7 1736,258.7 1736,266.7 C1736,276.7 1724,287.7 1700,288.7 Z" fill="url(#capg)"/>
<path d="M1721,251.7 C1730,255.7 1735,263.7 1733,270.7 C1731,274.7 1728,275.7 1724,275.7" stroke="#0a0a0e" stroke-width="4.5" fill="none"/>
<path d="M438.7,393.3L1709.7,249.3" stroke="#bdbec0" stroke-width="2.20" fill="none" stroke-linecap="butt" stroke-linejoin="round" />
<path d="M438.9,394.8L1709.9,250.8" stroke="#6a6c70" stroke-width="2.20" fill="none" stroke-linecap="butt" stroke-linejoin="round" />
<path d="M439.1,396.2L1710.1,252.3" stroke="#606266" stroke-width="2.20" fill="none" stroke-linecap="butt" stroke-linejoin="round" />
<path d="M439.2,397.7L1710.2,253.8" stroke="#a6a8ab" stroke-width="2.20" fill="none" stroke-linecap="butt" stroke-linejoin="round" />
<path d="M439.4,399.2L1710.4,255.3" stroke="#eeeeef" stroke-width="2.20" fill="none" stroke-linecap="butt" stroke-linejoin="round" />
<path d="M439.6,400.7L1710.6,256.8" stroke="#fbfbfb" stroke-width="2.20" fill="none" stroke-linecap="butt" stroke-linejoin="round" />
<path d="M439.7,402.2L1710.7,258.2" stroke="#fbfbfb" stroke-width="2.20" fill="none" stroke-linecap="butt" stroke-linejoin="round" />
<path d="M439.9,403.7L1710.9,259.7" stroke="#fcfcfc" stroke-width="2.20" fill="none" stroke-linecap="butt" stroke-linejoin="round" />
<path d="M440.1,405.2L1711.1,261.2" stroke="#fdfdfd" stroke-width="2.20" fill="none" stroke-linecap="butt" stroke-linejoin="round" />
<path d="M440.2,406.7L1711.2,262.7" stroke="#e3e4e5" stroke-width="2.20" fill="none" stroke-linecap="butt" stroke-linejoin="round" />
<path d="M440.4,408.2L1711.4,264.2" stroke="#9c9ea4" stroke-width="2.20" fill="none" stroke-linecap="butt" stroke-linejoin="round" />
<path d="M440.6,409.7L1711.6,265.7" stroke="#5a5d65" stroke-width="2.20" fill="none" stroke-linecap="butt" stroke-linejoin="round" />
<path d="M440.7,411.2L1711.7,267.2" stroke="#60646d" stroke-width="2.20" fill="none" stroke-linecap="butt" stroke-linejoin="round" />
<path d="M440.9,412.6L1711.9,268.7" stroke="#80848f" stroke-width="2.20" fill="none" stroke-linecap="butt" stroke-linejoin="round" />
<path d="M441.1,414.1L1712.1,270.2" stroke="#9498a4" stroke-width="2.20" fill="none" stroke-linecap="butt" stroke-linejoin="round" />
<path d="M441.3,415.6L1712.3,271.7" stroke="#9da1aa" stroke-width="2.20" fill="none" stroke-linecap="butt" stroke-linejoin="round" />
<path d="M441.4,417.1L1712.4,273.1" stroke="#a6aab1" stroke-width="2.20" fill="none" stroke-linecap="butt" stroke-linejoin="round" />
<path d="M441.6,418.6L1712.6,274.6" stroke="#b9bbc0" stroke-width="2.20" fill="none" stroke-linecap="butt" stroke-linejoin="round" />
<path d="M441.8,420.1L1712.8,276.1" stroke="#cccdce" stroke-width="2.20" fill="none" stroke-linecap="butt" stroke-linejoin="round" />
<path d="M441.9,421.6L1712.9,277.6" stroke="#d2d2d2" stroke-width="2.20" fill="none" stroke-linecap="butt" stroke-linejoin="round" />
<path d="M442.1,423.1L1713.1,279.1" stroke="#d3d3d3" stroke-width="2.20" fill="none" stroke-linecap="butt" stroke-linejoin="round" />
<path d="M442.3,424.6L1713.3,280.6" stroke="#d3d3d3" stroke-width="2.20" fill="none" stroke-linecap="butt" stroke-linejoin="round" />
<path d="M442.4,426.1L1713.4,282.1" stroke="#d3d3d3" stroke-width="2.20" fill="none" stroke-linecap="butt" stroke-linejoin="round" />
<path d="M442.6,427.5L1713.6,283.6" stroke="#d4d4d4" stroke-width="2.20" fill="none" stroke-linecap="butt" stroke-linejoin="round" />
<path d="M442.8,429.0L1713.8,285.1" stroke="#cdcdcd" stroke-width="2.20" fill="none" stroke-linecap="butt" stroke-linejoin="round" />
<path d="M442.9,430.5L1713.9,286.6" stroke="#c1c1c1" stroke-width="2.20" fill="none" stroke-linecap="butt" stroke-linejoin="round" />
<path d="M443.1,432.0L1714.1,288.1" stroke="#dedede" stroke-width="2.20" fill="none" stroke-linecap="butt" stroke-linejoin="round" />
<path d="M443.3,433.5L1714.3,289.5" stroke="#f4f4f4" stroke-width="2.20" fill="none" stroke-linecap="butt" stroke-linejoin="round" />
<line x1="499" y1="387.0" x2="499" y2="427.0" stroke="#f4f4f4" stroke-width="1.5"/>
<line x1="1700" y1="251.0" x2="1700" y2="289.0" stroke="#f4f4f4" stroke-width="1.5"/>
</g>
<g filter="url(#dblur)">
<line x1="680.0" y1="689.0" x2="1746.3" y2="689.0" stroke="#2e2a2b" stroke-width="4.05" />
<line x1="680.0" y1="660.0" x2="680.0" y2="710.0" stroke="#2e2a2b" stroke-width="4.05" />
<line x1="1746.3" y1="660.0" x2="1746.3" y2="710.0" stroke="#2e2a2b" stroke-width="4.05" />
<path d="M684,689 L690,686 L690,692 Z" stroke="#2e2a2b" stroke-width="1.35" fill="#2e2a2b" />
<path d="M1742,689 L1736,686 L1736,692 Z" stroke="#2e2a2b" stroke-width="1.35" fill="#2e2a2b" />
<text x="1211.0" y="677.8" font-size="29" text-anchor="middle" fill="#3a3440" stroke="#3a3440" stroke-width="0.8" letter-spacing="-0.5">600 mm</text>
<line x1="600.0" y1="727.0" x2="600.0" y2="1106.0" stroke="#2e2a2b" stroke-width="4.05" />
<line x1="562.5" y1="727.0" x2="612.0" y2="727.0" stroke="#2e2a2b" stroke-width="4.05" />
<line x1="562.5" y1="1106.0" x2="612.0" y2="1106.0" stroke="#2e2a2b" stroke-width="4.05" />
<path d="M600,731 L597,737 L603,737 Z" stroke="#2e2a2b" stroke-width="1.35" fill="#2e2a2b" />
<path d="M600,1102 L597,1096 L603,1096 Z" stroke="#2e2a2b" stroke-width="1.35" fill="#2e2a2b" />
<text x="490.0" y="928.8" font-size="29" text-anchor="start" fill="#3a3440" stroke="#3a3440" stroke-width="0.8" letter-spacing="-0.5">214 mm</text>
<rect x="633.8" y="728.6" width="94.9" height="21" stroke="#2e2a2b" stroke-width="4.32" fill="none" rx="1.5"/>
<rect x="1696" y="728.6" width="94" height="21" stroke="#2e2a2b" stroke-width="4.32" fill="none" rx="1.5"/>
<line x1="665.0" y1="750.0" x2="665.0" y2="1106.0" stroke="#6b6869" stroke-width="4.86" />
<line x1="698.2" y1="750.0" x2="698.2" y2="1072.2" stroke="#6b6869" stroke-width="4.86" />
<line x1="1725.5" y1="750.0" x2="1725.5" y2="1072.2" stroke="#6b6869" stroke-width="4.86" />
<line x1="1760.0" y1="750.0" x2="1760.0" y2="1106.0" stroke="#6b6869" stroke-width="4.86" />
<line x1="698.2" y1="814.5" x2="1725.5" y2="814.5" stroke="#2e2a2b" stroke-width="4.32" />
<line x1="698.2" y1="837.0" x2="1725.5" y2="837.0" stroke="#555152" stroke-width="4.32" />
<path d="M698.2,814.5 C691.2,819.5 691.2,832.0 698.2,837.0" stroke="#2e2a2b" stroke-width="4.32" fill="none" />
<path d="M1725.5,814.5 C1732.5,819.5 1732.5,832.0 1725.5,837.0" stroke="#2e2a2b" stroke-width="4.32" fill="none" />
<line x1="698.2" y1="902.8" x2="1725.5" y2="902.8" stroke="#2e2a2b" stroke-width="4.32" />
<line x1="698.2" y1="925.5" x2="1725.5" y2="925.5" stroke="#555152" stroke-width="4.32" />
<path d="M698.2,902.8 C691.2,907.8 691.2,920.5 698.2,925.5" stroke="#2e2a2b" stroke-width="4.32" fill="none" />
<path d="M1725.5,902.8 C1732.5,907.8 1732.5,920.5 1725.5,925.5" stroke="#2e2a2b" stroke-width="4.32" fill="none" />
<line x1="698.2" y1="946.8" x2="1725.5" y2="946.8" stroke="#2e2a2b" stroke-width="4.32" />
<line x1="698.2" y1="969.5" x2="1725.5" y2="969.5" stroke="#444041" stroke-width="4.32" />
<line x1="698.2" y1="990.7" x2="1725.5" y2="990.7" stroke="#2e2a2b" stroke-width="4.32" />
<line x1="698.2" y1="1014.5" x2="1725.5" y2="1014.5" stroke="#555152" stroke-width="4.32" />
<path d="M698.2,990.7 C691.2,995.7 691.2,1009.5 698.2,1014.5" stroke="#2e2a2b" stroke-width="4.32" fill="none" />
<path d="M1725.5,990.7 C1732.5,995.7 1732.5,1009.5 1725.5,1014.5" stroke="#2e2a2b" stroke-width="4.32" fill="none" />
<line x1="698.2" y1="1072.2" x2="1725.5" y2="1072.2" stroke="#3a3637" stroke-width="4.32" />
<line x1="665.0" y1="1105.5" x2="1760.0" y2="1105.5" stroke="#3a3637" stroke-width="4.32" />
<line x1="698.2" y1="1072.2" x2="665.0" y2="1105.5" stroke="#2e2a2b" stroke-width="4.32" />
<line x1="1725.5" y1="1072.2" x2="1760.0" y2="1105.5" stroke="#2e2a2b" stroke-width="4.32" />
<line x1="724.3" y1="1072.2" x2="724.3" y2="1105.5" stroke="#1e1a1b" stroke-width="4.32" />
<line x1="1699.7" y1="1072.2" x2="1699.7" y2="1105.5" stroke="#1e1a1b" stroke-width="4.32" />
<line x1="632.0" y1="1136.6" x2="1797.5" y2="1136.6" stroke="#2e2a2b" stroke-width="4.05" />
<line x1="632.0" y1="1122.6" x2="632.0" y2="1168.4" stroke="#2e2a2b" stroke-width="4.05" />
<line x1="1797.5" y1="1122.6" x2="1797.5" y2="1168.4" stroke="#2e2a2b" stroke-width="4.05" />
<path d="M636,1136.6 L642,1133.6 L642,1139.6 Z" stroke="#2e2a2b" stroke-width="1.35" fill="#2e2a2b" />
<path d="M1793.5,1136.6 L1787.5,1133.6 L1787.5,1139.6 Z" stroke="#2e2a2b" stroke-width="1.35" fill="#2e2a2b" />
<text x="1211.0" y="1169.0" font-size="29" text-anchor="middle" fill="#3a3440" stroke="#3a3440" stroke-width="0.8" letter-spacing="-0.5">654 mm</text>
<path d="M446.5,1228 L116,1228 A16,16 0 0 0 116,1260 L446.5,1260" stroke="#2e2a2b" stroke-width="4.32" fill="none" />
<rect x="446.5" y="1197.5" width="20.5" height="91.9" stroke="#2e2a2b" stroke-width="4.32" fill="none"/>
<path d="M232.8,1263 L232.8,1369 A12,12 0 0 0 256.8,1369 L256.8,1263" stroke="#2e2a2b" stroke-width="4.32" fill="none" />
<path d="M232.8,1262 A12,8 0 0 1 256.8,1262" stroke="#2e2a2b" stroke-width="4.05" fill="none" />
<line x1="600.3" y1="1194.6" x2="600.3" y2="1386.0" stroke="#2e2a2b" stroke-width="4.05" />
<line x1="562.6" y1="1194.6" x2="612.8" y2="1194.6" stroke="#2e2a2b" stroke-width="4.05" />
<line x1="562.6" y1="1386.0" x2="612.8" y2="1386.0" stroke="#2e2a2b" stroke-width="4.05" />
<path d="M600.3,1198.6 L597.3,1204.6 L603.3,1204.6 Z" stroke="#2e2a2b" stroke-width="1.35" fill="#2e2a2b" />
<path d="M600.3,1382 L597.3,1376 L603.3,1376 Z" stroke="#2e2a2b" stroke-width="1.35" fill="#2e2a2b" />
<text x="499.0" y="1291.0" font-size="29" text-anchor="start" fill="#3a3440" stroke="#3a3440" stroke-width="0.8" letter-spacing="-0.5">107 mm</text>
<path d="M692.5,1289.2 A47.5,47.5 0 1 0 669.3,1290.7" stroke="#2e2a2b" stroke-width="4.05" fill="none" />
<path d="M1752.6,1290.3 A47.3,47.3 0 1 0 1729.4,1289.3" stroke="#2e2a2b" stroke-width="4.05" fill="none" />
<path d="M679,1228 L1741.5,1228 A17,17 0 0 1 1741.5,1262 L679,1262 A17,17 0 0 1 679,1228 Z" stroke="#2e2a2b" stroke-width="4.32" fill="none" />
<line x1="722.9" y1="1228.0" x2="722.9" y2="1262.0" stroke="#2e2a2b" stroke-width="4.59" />
<line x1="1699.7" y1="1228.0" x2="1699.7" y2="1262.0" stroke="#2e2a2b" stroke-width="4.59" />
<path d="M669.3,1258 L669.3,1327 A60,60 0 0 0 729.3,1387.2 L1692.6,1387.2 A60,60 0 0 0 1752.6,1327 L1752.6,1258" stroke="#2e2a2b" stroke-width="4.32" fill="none" />
<path d="M692.5,1262 L692.5,1327 A36,36 0 0 0 728.5,1363.3 L1693.4,1363.3 A36,36 0 0 0 1729.4,1327 L1729.4,1262" stroke="#2e2a2b" stroke-width="4.32" fill="none" />
<circle cx="235.0" cy="1778.0" r="103.0" stroke="#2e2a2b" stroke-width="3.38" fill="none" />
<circle cx="236.4" cy="1773.0" r="48.0" stroke="#2e2a2b" stroke-width="4.86" fill="none" />
<circle cx="236.4" cy="1773.0" r="45.1" stroke="#2e2a2b" stroke-width="3.24" fill="none" />
<circle cx="1299.3" cy="1777.5" r="102.7" stroke="#2e2a2b" stroke-width="3.38" fill="none" />
<circle cx="1301.3" cy="1772.5" r="47.5" stroke="#2e2a2b" stroke-width="4.86" fill="none" />
<circle cx="1301.3" cy="1772.5" r="44.6" stroke="#2e2a2b" stroke-width="3.24" fill="none" />
<line x1="283.5" y1="1756.6" x2="1254.5" y2="1756.6" stroke="#2e2a2b" stroke-width="4.05" />
<line x1="283.5" y1="1791.0" x2="1254.5" y2="1791.0" stroke="#2e2a2b" stroke-width="4.05" />
<circle cx="230.9" cy="1730.8" r="3.3" stroke="#2e2a2b" stroke-width="2.43" fill="#fff" />
<circle cx="242.2" cy="1730.8" r="3.3" stroke="#2e2a2b" stroke-width="2.43" fill="#fff" />
<circle cx="192.8" cy="1773.3" r="3.5" stroke="#2e2a2b" stroke-width="2.43" fill="#fff" />
<circle cx="279.9" cy="1773.3" r="3.5" stroke="#2e2a2b" stroke-width="2.43" fill="#fff" />
<ellipse cx="236.6" cy="1818.0" rx="11.5" ry="4.8" stroke="#2e2a2b" stroke-width="2.97" fill="#fff" />
<ellipse cx="1300.9" cy="1730.3" rx="9.0" ry="4.0" stroke="#2e2a2b" stroke-width="2.97" fill="#fff" />
<circle cx="1296.0" cy="1816.4" r="3.4" stroke="#2e2a2b" stroke-width="2.43" fill="#fff" />
<circle cx="1306.7" cy="1816.4" r="3.4" stroke="#2e2a2b" stroke-width="2.43" fill="#fff" />
<circle cx="1256.2" cy="1773.3" r="3.4" stroke="#2e2a2b" stroke-width="2.43" fill="#fff" />
<circle cx="1344.8" cy="1773.3" r="3.4" stroke="#2e2a2b" stroke-width="2.43" fill="#fff" />
<path d="M226.1,1821 L226.1,1886 A58.5,58.5 0 0 0 284.6,1944.5" stroke="#2e2a2b" stroke-width="4.05" fill="none" />
<path d="M249.7,1821 L249.7,1886 A36,36 0 0 0 285.7,1920.6" stroke="#2e2a2b" stroke-width="4.05" fill="none" />
<line x1="284.6" y1="1944.7" x2="1251.5" y2="1944.7" stroke="#8a8a8a" stroke-width="6.21" />
<line x1="285.7" y1="1920.6" x2="1251.0" y2="1920.6" stroke="#5a5a5a" stroke-width="5.13" />
<path d="M1310,1821 L1310,1886 A58.5,58.5 0 0 1 1251.5,1944.5" stroke="#2e2a2b" stroke-width="4.05" fill="none" />
<path d="M1286.8,1821 L1286.8,1886 A36,36 0 0 1 1250.8,1920.6" stroke="#2e2a2b" stroke-width="4.05" fill="none" />
<line x1="327.8" y1="1728.6" x2="1455.2" y2="1645.8" stroke="#2e2a2b" stroke-width="3.24" />
<line x1="1372.1" y1="1703.8" x2="1455.2" y2="1647.5" stroke="#2e2a2b" stroke-width="3.24" />
<circle cx="1674.5" cy="1702.6" r="224.7" stroke="#2e2a2b" stroke-width="3.78" fill="none" />
<circle cx="1714.7" cy="1651.8" r="131.0" stroke="#2e2a2b" stroke-width="3.51" fill="none" />
<ellipse cx="1714.5" cy="1646.4" rx="108.5" ry="104.5" stroke="#2e2a2b" stroke-width="4.32" fill="none" />
<path d="M1745.0,1530.2 A125.5,125.5 0 0 1 1838.8,1631.9 Q1840.5,1640 1835.8,1641.5 Q1825.8,1643 1825.8,1650 Q1825.8,1657 1835.8,1658.5 Q1840.8,1660 1839.4,1667.9 A125.5,125.5 0 0 1 1747.0,1773.3 L1742,1766 Q1739,1760 1732,1760 L1700,1760 Q1693,1760 1690,1766 L1685.0,1773.9 A125.5,125.5 0 0 1 1590.4,1667.9 Q1589,1660 1594,1658.5 Q1604,1657 1604,1650 Q1604,1643 1594,1641.5 Q1589.5,1640 1591.0,1631.9 A125.5,125.5 0 0 1 1688.0,1529.4 Q1691,1541 1700,1540.5 Q1708,1540 1710,1532 Q1713,1527.5 1716,1527.5 Q1719,1527.5 1722,1532 Q1724,1540 1732,1540.5 Q1741,1541 1745.0,1530.2" stroke="#2e2a2b" stroke-width="3.38" fill="none" />
<line x1="1528.0" y1="1590.8" x2="1776.0" y2="1590.8" stroke="#3a3637" stroke-width="4.05" stroke-dasharray="16 7" stroke-dashoffset="6"/>
<line x1="1528.0" y1="1704.2" x2="1776.0" y2="1704.2" stroke="#3a3637" stroke-width="4.05" stroke-dasharray="16 7" stroke-dashoffset="6"/>
<line x1="1716.3" y1="1512.0" x2="1716.3" y2="1797.0" stroke="#2e2a2b" stroke-width="3.51" stroke-dasharray="22 5 3 5"/>
<ellipse cx="1715.6" cy="1591.9" rx="17.3" ry="30.4" stroke="#2e2a2b" stroke-width="4.05" fill="none" />
<circle cx="1715.2" cy="1655.0" r="19.9" stroke="#2e2a2b" stroke-width="4.05" fill="none" />
<ellipse cx="1716.0" cy="1704.9" rx="29.7" ry="15.0" stroke="#2e2a2b" stroke-width="4.05" fill="#fff" />
<line x1="1574.3" y1="1592.0" x2="1574.3" y2="1703.4" stroke="#2e2a2b" stroke-width="3.78" />
<path d="M1574.3,1593 L1571.2,1600 L1577.4,1600 Z" stroke="#2e2a2b" stroke-width="1.35" fill="#2e2a2b" />
<path d="M1574.3,1702.4 L1571.2,1695.4 L1577.4,1695.4 Z" stroke="#2e2a2b" stroke-width="1.35" fill="#2e2a2b" />
<text x="1469.0" y="1659.8" font-size="29" text-anchor="start" fill="#3a3440" stroke="#3a3440" stroke-width="0.8" letter-spacing="-0.5">23 mm</text>
<clipPath id="dwl"><path d="M1705.5,1849 L1705.5,1817.5 Q1716.5,1809.5 1727.5,1817.5 L1727.5,1849 Z"/></clipPath>
<path d="M1705.5,1849 L1705.5,1817.5 Q1716.5,1809.5 1727.5,1817.5 L1727.5,1849 Z" fill="#3a3a3a"/>
<g clip-path="url(#dwl)"><path d="M1700,1812 L1735,1842" stroke="#8a8a8a" stroke-width="5"/><path d="M1698,1830 L1730,1858" stroke="#7a7a7a" stroke-width="5"/></g>
<path d="M1705.5,1849 L1705.5,1817.5 Q1716.5,1809.5 1727.5,1817.5 L1727.5,1849 Z" fill="none" stroke="#1e1e1e" stroke-width="2"/>
<line x1="1716.6" y1="1866.0" x2="1716.6" y2="1903.0" stroke="#2e2a2b" stroke-width="3.78" />
<path d="M1716.6,1860 L1712.8,1870 L1720.4,1870 Z" stroke="#2e2a2b" stroke-width="1.35" fill="#2e2a2b" />
</g>
</svg></body></html>
